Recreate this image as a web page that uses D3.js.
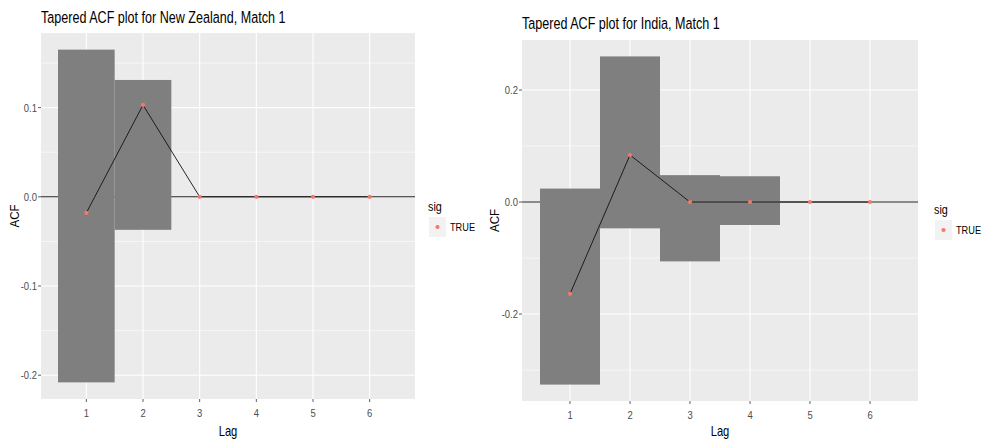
<!DOCTYPE html>
<html>
<head>
<meta charset="utf-8">
<script src="https://cdn.jsdelivr.net/npm/d3@7"></script>
<style>
  body { margin: 0; background: #fff; }
  svg text { font-family: "Liberation Sans", Arial, sans-serif; }
</style>
</head>
<body>
<svg id="chart" width="982" height="440"></svg>
<script>
const lags = [1, 2, 3, 4, 5, 6];
const lagTicks = ["1", "2", "3", "4", "5", "6"];

// New Zealand, match 1
const nzAcf = [-0.018, 0.103, 0, 0, 0, 0];
const nzLower = [-0.208, -0.037, 0, 0, 0, 0];
const nzUpper = [0.165, 0.131, 0, 0, 0, 0];
const nzTicks = [-0.2, -0.1, 0, 0.1];
const nzTickLabels = ["-0.2", "-0.1", "0.0", "0.1"];

// India, match 1
const inAcf = [-0.164, 0.084, 0, 0, 0, 0];
const inLower = [-0.326, -0.047, -0.106, -0.041, 0, 0];
const inUpper = [0.024, 0.26, 0.048, 0.046, 0, 0];
const inTicks = [-0.2, 0, 0.2];
const inTickLabels = ["-0.2", "0.0", "0.2"];

const svg = d3.select("#chart");

function label(g, x, y, txt, size, color, anchor, rotate, sq) {
      return g.append("text")
            .attr("transform", `translate(${x},${y})` + (rotate ? " rotate(-90)" : "") + ` scale(${sq || 0.86},1)`)
            .attr("font-size", size)
            .attr("fill", color)
            .attr("text-anchor", anchor || "start")
            .text(txt);
}

function panel(opt) {
      const { box, acf, lower, upper, ticks, tickLabels, title, legend } = opt;
      const g = svg.append("g");

      const x = d3.scaleLinear().domain([0.2, 6.8]).range([box.x0, box.x1]);
      const lo = d3.min(lower), hi = d3.max(upper);
      const pad = (hi - lo) * 0.05;
      const y = d3.scaleLinear().domain([lo - pad, hi + pad]).range([box.y1, box.y0]);

      g.append("rect")
            .attr("x", box.x0).attr("y", box.y0)
            .attr("width", box.x1 - box.x0).attr("height", box.y1 - box.y0)
            .attr("fill", "#ebebeb");

      // minor grid: midpoints between major ticks, plus one step beyond
      const step = ticks[1] - ticks[0];
      const minor = [];
      for (let v = ticks[0] - step / 2; v <= ticks[ticks.length - 1] + step; v += step) {
            if (v > y.domain()[0] && v < y.domain()[1]) minor.push(v);
      }
      g.selectAll(".minor").data(minor).join("line")
            .attr("x1", box.x0).attr("x2", box.x1)
            .attr("y1", d => y(d)).attr("y2", d => y(d))
            .attr("stroke", "#fff").attr("stroke-width", 0.6);

      g.selectAll(".majy").data(ticks).join("line")
            .attr("x1", box.x0).attr("x2", box.x1)
            .attr("y1", d => y(d)).attr("y2", d => y(d))
            .attr("stroke", "#fff").attr("stroke-width", 1.1);

      g.selectAll(".majx").data(lags).join("line")
            .attr("x1", d => x(d)).attr("x2", d => x(d))
            .attr("y1", box.y0).attr("y2", box.y1)
            .attr("stroke", "#fff").attr("stroke-width", 1.1);

      // zero reference line
      g.append("line")
            .attr("x1", box.x0).attr("x2", box.x1)
            .attr("y1", y(0)).attr("y2", y(0))
            .attr("stroke", "#222").attr("stroke-width", 1.1);

      // tapered bands
      g.selectAll(".band").data(lags).join("rect")
            .attr("x", d => x(d - 0.5))
            .attr("width", d => x(d + 0.5) - x(d - 0.5))
            .attr("y", (d, i) => y(upper[i]))
            .attr("height", (d, i) => Math.max(0, y(lower[i]) - y(upper[i])))
            .attr("fill", "#7f7f7f");

      g.append("path")
            .datum(lags)
            .attr("fill", "none")
            .attr("stroke", "#111")
            .attr("stroke-width", 0.9)
            .attr("d", d3.line().x(d => x(d)).y((d, i) => y(acf[i])));

      g.selectAll(".pt").data(lags).join("circle")
            .attr("cx", d => x(d)).attr("cy", (d, i) => y(acf[i]))
            .attr("r", 2.1)
            .attr("fill", "#F8766D");

      // axes
      g.selectAll(".ytk").data(ticks).join("line")
            .attr("x1", box.x0 - 3).attr("x2", box.x0)
            .attr("y1", d => y(d)).attr("y2", d => y(d))
            .attr("stroke", "#333").attr("stroke-width", 0.8);
      ticks.forEach((t, i) => {
            label(g, box.x0 - 4, y(t) + 4, tickLabels[i], 11, "#4d4d4d", "end");
      });

      g.selectAll(".xtk").data(lags).join("line")
            .attr("x1", d => x(d)).attr("x2", d => x(d))
            .attr("y1", box.y1).attr("y2", box.y1 + 3)
            .attr("stroke", "#333").attr("stroke-width", 0.8);
      lags.forEach((l, i) => {
            label(g, x(l), box.y1 + 18, lagTicks[i], 11, "#4d4d4d", "middle");
      });

      label(g, (box.x0 + box.x1) / 2, 436, "Lag", 14, "#000", "middle", false, 0.8);
      label(g, opt.ylabX, (box.y0 + box.y1) / 2, "ACF", 13.5, "#000", "middle", true);
      label(g, box.x0, opt.titleY, title, 17, "#000", "start", false, 0.74);

      // legend
      label(g, legend.x, legend.y, "sig", 13.5, "#000", "start", false, 0.8);
      g.append("rect")
            .attr("x", legend.x + 1).attr("y", legend.y + 6)
            .attr("width", 17).attr("height", 20)
            .attr("fill", "#f2f2f2");
      g.append("circle")
            .attr("cx", legend.x + 9.5).attr("cy", legend.y + 16)
            .attr("r", 2.1).attr("fill", "#F8766D");
      label(g, legend.x + 22, legend.y + 20, "TRUE", 11.5, "#000", "start", false, 0.8);
}

panel({
      box: { x0: 41, x1: 415, y0: 33, y1: 399 },
      acf: nzAcf, lower: nzLower, upper: nzUpper,
      ticks: nzTicks, tickLabels: nzTickLabels,
      title: "Tapered ACF plot for New Zealand, Match 1",
      titleY: 23, ylabX: 19,
      legend: { x: 428, y: 211 }
});

panel({
      box: { x0: 522, x1: 918, y0: 40, y1: 401 },
      acf: inAcf, lower: inLower, upper: inUpper,
      ticks: inTicks, tickLabels: inTickLabels,
      title: "Tapered ACF plot for India, Match 1",
      titleY: 29, ylabX: 499,
      legend: { x: 934, y: 214 }
});
</script>
</body>
</html>
